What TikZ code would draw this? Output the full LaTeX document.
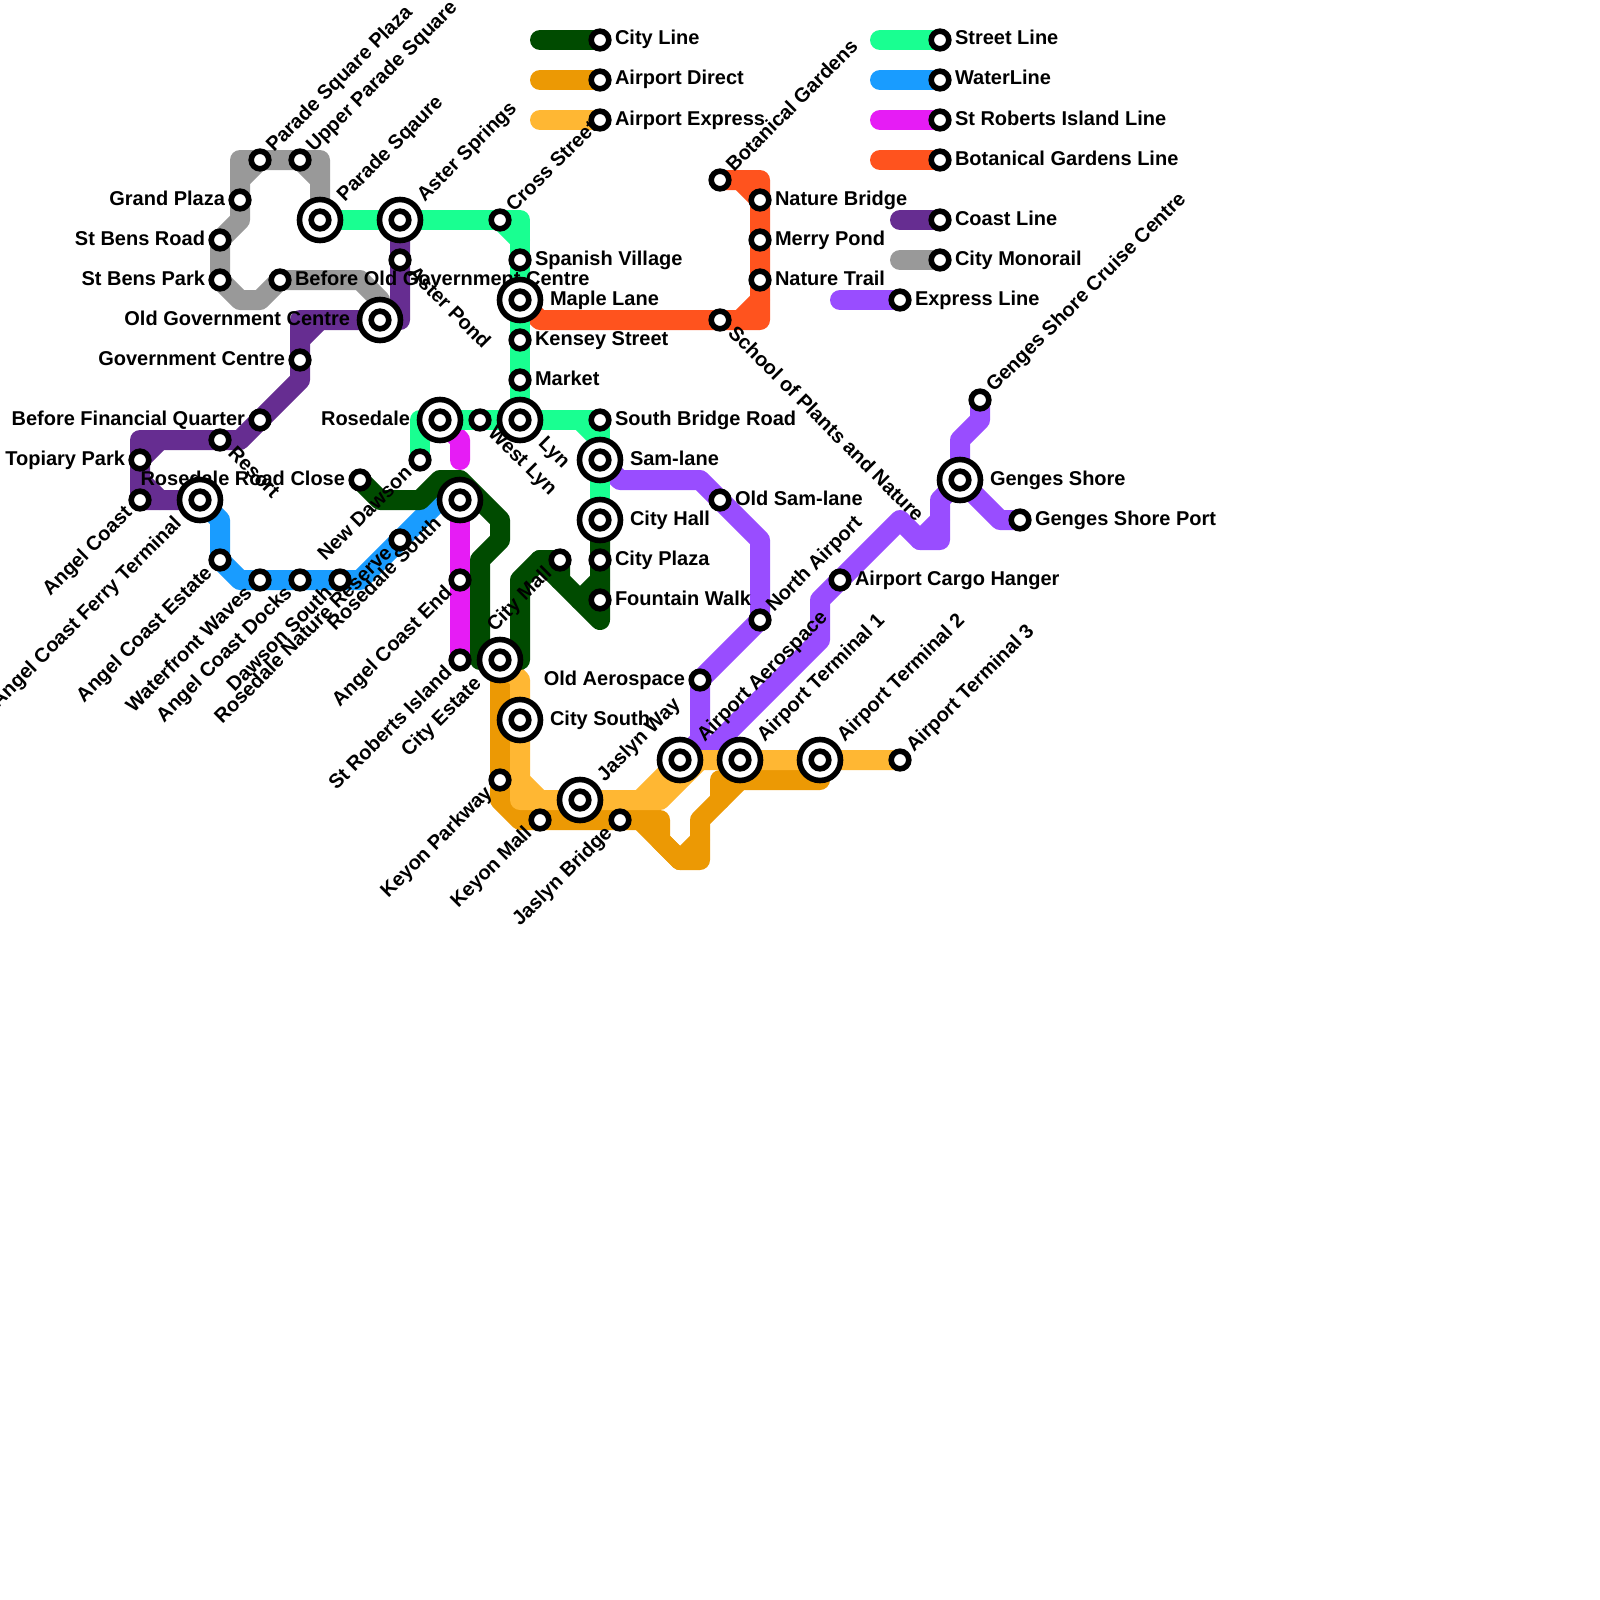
\documentclass[tikz,border=0pt]{standalone}
\usepackage{fontspec}
\setmainfont{Liberation Sans}
\definecolor{citycol}{RGB}{0,75,0}
\definecolor{directcol}{RGB}{236,153,4}
\definecolor{exprcol}{RGB}{255,183,51}
\definecolor{streetcol}{RGB}{25,255,145}
\definecolor{watercol}{RGB}{25,156,255}
\definecolor{islandcol}{RGB}{230,28,245}
\definecolor{botancol}{RGB}{255,83,30}
\definecolor{coastcol}{RGB}{102,45,145}
\definecolor{monocol}{RGB}{153,153,153}
\definecolor{expresscol}{RGB}{153,77,255}
\pgfdeclarelayer{lines}
\pgfdeclarelayer{labels}
\pgfsetlayers{lines,labels,main}
\begin{document}
\begin{tikzpicture}[
    x=1pt,y=-1pt,
    ln/.style={line width=20pt,line cap=round,line join=round},
    stn/.style={circle,draw=black,fill=white,line width=5.6pt,inner sep=0pt,outer sep=0pt,minimum size=17.6pt},
    hub/.style={circle,draw=black,fill=white,line width=5.6pt,inner sep=0pt,outer sep=0pt,minimum size=41pt,
        path picture={\draw[line width=5.6pt] (path picture bounding box.center) circle (8.8pt);}},
    lab/.style={inner sep=0pt,outer sep=0pt,font=\fontsize{20pt}{24pt}\selectfont\bfseries},
    rlab/.style={lab,anchor=base west,xshift=#1,yshift=-5pt},
    rlab/.default=15pt,
    llab/.style={lab,anchor=base east,xshift=-#1,yshift=-5pt},
    llab/.default=15pt,
    ulab/.style={lab,rotate=45,anchor=base west,xshift=#1,yshift=-5pt},
    ulab/.default=15pt,
    blab/.style={lab,rotate=45,anchor=base east,xshift=-#1,yshift=-5pt},
    blab/.default=15pt,
    dlab/.style={lab,rotate=-45,anchor=base west,xshift=#1,yshift=-5pt},
    dlab/.default=15pt
]
\useasboundingbox (0,0) rectangle (1600,1600);
\node[stn] (lgcity) at (600,40) {};
\node[stn] (lgdirect) at (600,80) {};
\node[stn] (lgexpr) at (600,120) {};
\node[stn] (lgstreet) at (940,40) {};
\node[stn] (lgwater) at (940,80) {};
\node[stn] (lgisland) at (940,120) {};
\node[stn] (lgbotan) at (940,160) {};
\node[stn] (lgcoast) at (940,220) {};
\node[stn] (lgmono) at (940,260) {};
\node[stn] (lgexpress) at (900,300) {};
\node[stn] (parplaza) at (260,160) {};
\node[stn] (uppar) at (300,160) {};
\node[stn] (grand) at (240,200) {};
\node[stn] (bensrd) at (220,240) {};
\node[stn] (benspk) at (220,280) {};
\node[stn] (beforeold) at (280,280) {};
\node[hub] (oldgov) at (380,320) {};
\node[hub] (parade) at (320,220) {};
\node[hub] (aster) at (400,220) {};
\node[stn] (asterpond) at (400,260) {};
\node[stn] (gov) at (300,360) {};
\node[stn] (beforefin) at (260,420) {};
\node[stn] (resort) at (220,440) {};
\node[stn] (topiary) at (140,460) {};
\node[stn] (angel) at (140,500) {};
\node[hub] (ferry) at (200,500) {};
\node[stn] (estate) at (220,560) {};
\node[stn] (waves) at (260,580) {};
\node[stn] (docks) at (300,580) {};
\node[stn] (dawson) at (340,580) {};
\node[stn] (reserve) at (400,540) {};
\node[hub] (rosesouth) at (460,500) {};
\node[stn] (rosecl) at (360,480) {};
\node[stn] (newdawson) at (420,460) {};
\node[hub] (rosedale) at (440,420) {};
\node[stn] (westlyn) at (480,420) {};
\node[hub] (lyn) at (520,420) {};
\node[stn] (cross) at (500,220) {};
\node[stn] (spanish) at (520,260) {};
\node[hub] (maple) at (520,300) {};
\node[stn] (kensey) at (520,340) {};
\node[stn] (market) at (520,380) {};
\node[stn] (southbr) at (600,420) {};
\node[hub] (samlane) at (600,460) {};
\node[hub] (cityhall) at (600,520) {};
\node[stn] (cityplaza) at (600,560) {};
\node[stn] (fountain) at (600,600) {};
\node[stn] (citymall) at (560,560) {};
\node[stn] (coastend) at (460,580) {};
\node[stn] (stroberts) at (460,660) {};
\node[hub] (cityest) at (500,660) {};
\node[hub] (citysouth) at (520,720) {};
\node[stn] (keyonpk) at (500,780) {};
\node[stn] (keyonml) at (540,820) {};
\node[hub] (jaslynw) at (580,800) {};
\node[stn] (jaslynb) at (620,820) {};
\node[hub] (aero) at (680,760) {};
\node[hub] (term1) at (740,760) {};
\node[hub] (term2) at (820,760) {};
\node[stn] (term3) at (900,760) {};
\node[stn] (oldaero) at (700,680) {};
\node[stn] (northair) at (760,620) {};
\node[stn] (oldsam) at (720,500) {};
\node[stn] (cargo) at (840,580) {};
\node[hub] (genges) at (960,480) {};
\node[stn] (gengesp) at (1020,520) {};
\node[stn] (cruise) at (980,400) {};
\node[stn] (botan) at (720,180) {};
\node[stn] (naturebr) at (760,200) {};
\node[stn] (merry) at (760,240) {};
\node[stn] (naturetr) at (760,280) {};
\node[stn] (school) at (720,320) {};
\begin{pgfonlayer}{lines}
\draw[ln,monocol] (900,260) -- (lgmono.center);
\draw[ln,monocol] (parade.center) -- (320,160) -- (uppar.center) -- (parplaza.center) -- (240,160) -- (grand.center) -- (240,220) -- (bensrd.center) -- (benspk.center) -- (240,300) -- (260,300) -- (beforeold.center) -- (360,280) -- (380,300) -- (oldgov.center);
\draw[ln,monocol] (uppar.center) -- (320,180);
\draw[ln,monocol] (parplaza.center) -- (240,180);
\draw[ln,coastcol] (900,220) -- (lgcoast.center);
\draw[ln,coastcol] (aster.center) -- (asterpond.center) -- (400,320) -- (oldgov.center) -- (300,320) -- (gov.center) -- (300,380) -- (beforefin.center) -- (240,440) -- (resort.center) -- (140,440) -- (topiary.center) -- (angel.center) -- (ferry.center);
\draw[ln,coastcol] (320,320) -- (300,340);
\draw[ln,coastcol] (160,440) -- (topiary.center);
\draw[ln,coastcol] (140,480) -- (160,500);
\draw[ln,expresscol] (840,300) -- (lgexpress.center);
\draw[ln,expresscol] (samlane.center) -- (620,480) -- (700,480) -- (oldsam.center) -- (760,540) -- (northair.center) -- (oldaero.center) -- (700,740) -- (aero.center);
\draw[ln,expresscol] (aero.center) -- (700,760) -- (820,640) -- (820,600) -- (cargo.center) -- (900,520) -- (920,540) -- (940,540) -- (940,500) -- (genges.center) -- (960,440) -- (980,420) -- (cruise.center);
\draw[ln,expresscol] (920,540) -- (940,520);
\draw[ln,expresscol] (genges.center) -- (1000,520) -- (gengesp.center);
\draw[ln,watercol] (880,80) -- (lgwater.center);
\draw[ln,watercol] (ferry.center) -- (220,520) -- (estate.center) -- (240,580) -- (360,580) -- (reserve.center) -- (440,500) -- (rosesouth.center);
\draw[ln,islandcol] (880,120) -- (lgisland.center);
\draw[ln,islandcol] (rosedale.center) -- (460,440) -- (460,460);
\draw[ln,islandcol] (rosesouth.center) -- (stroberts.center);
\draw[ln,botancol] (880,160) -- (lgbotan.center);
\draw[ln,botancol] (maple.center) -- (540,320) -- (760,320) -- (760,180) -- (botan.center);
\draw[ln,botancol] (740,320) -- (760,300);
\draw[ln,botancol] (740,180) -- (naturebr.center);
\draw[ln,streetcol] (880,40) -- (lgstreet.center);
\draw[ln,streetcol] (parade.center) -- (520,220) -- (lyn.center);
\draw[ln,streetcol] (cross.center) -- (520,240);
\draw[ln,streetcol] (newdawson.center) -- (420,420) -- (600,420) -- (cityhall.center);
\draw[ln,streetcol] (580,420) -- (600,440);
\draw[ln,directcol] (540,80) -- (lgdirect.center);
\draw[ln,directcol] (cityest.center) -- (500,800) -- (520,820) -- (660,820) -- (660,840) -- (680,860) -- (700,860) -- (700,820) -- (720,800) -- (720,780) -- (820,780) -- (term2.center);
\draw[ln,directcol] (640,820) -- (680,860);
\draw[ln,directcol] (680,860) -- (700,840);
\draw[ln,directcol] (720,800) -- (740,780);
\draw[ln,exprcol] (540,120) -- (lgexpr.center);
\draw[ln,exprcol] (cityest.center) -- (520,680) -- (520,800) -- (660,800) -- (700,760);
\draw[ln,exprcol] (520,780) -- (540,800);
\draw[ln,exprcol] (640,800) -- (aero.center) -- (term3.center);
\draw[ln,citycol] (540,40) -- (lgcity.center);
\draw[ln,citycol] (rosecl.center) -- (380,500) -- (420,500) -- (440,480) -- (460,480) -- (500,520) -- (500,540) -- (480,560) -- (480,660) -- (520,660) -- (520,580) -- (540,560) -- (citymall.center) -- (560,580) -- (600,620) -- (cityhall.center);
\draw[ln,citycol] (580,600) -- (600,580);
\draw[ln,citycol] (540,560) -- (560,580);
\end{pgfonlayer}
\begin{pgfonlayer}{labels}
\node[rlab] (tlgcity) at (lgcity) {City Line};
\node[rlab] (tlgdirect) at (lgdirect) {Airport Direct};
\node[rlab] (tlgexpr) at (lgexpr) {Airport Express};
\node[rlab] (tlgstreet) at (lgstreet) {Street Line};
\node[rlab] (tlgwater) at (lgwater) {WaterLine};
\node[rlab] (tlgisland) at (lgisland) {St Roberts Island Line};
\node[rlab] (tlgbotan) at (lgbotan) {Botanical Gardens Line};
\node[rlab] (tlgcoast) at (lgcoast) {Coast Line};
\node[rlab] (tlgmono) at (lgmono) {City Monorail};
\node[rlab] (tlgexpress) at (lgexpress) {Express Line};
\node[ulab] (tparplaza) at (parplaza) {Parade Square Plaza};
\node[ulab] (tuppar) at (uppar) {Upper Parade Square};
\node[llab] (tgrand) at (grand) {Grand Plaza};
\node[llab] (tbensrd) at (bensrd) {St Bens Road};
\node[llab] (tbenspk) at (benspk) {St Bens Park};
\node[rlab] (tbeforeold) at (beforeold) {Before Old Government Centre};
\node[llab=30pt] (toldgov) at (oldgov) {Old Government Centre};
\node[ulab=30pt] (tparade) at (parade) {Parade Sqaure};
\node[ulab=30pt] (taster) at (aster) {Aster Springs};
\node[dlab] (tasterpond) at (asterpond) {Aster Pond};
\node[llab] (tgov) at (gov) {Government Centre};
\node[llab] (tbeforefin) at (beforefin) {Before Financial Quarter};
\node[dlab] (tresort) at (resort) {Resort};
\node[llab] (ttopiary) at (topiary) {Topiary Park};
\node[blab] (tangel) at (angel) {Angel Coast};
\node[blab=30pt] (tferry) at (ferry) {Angel Coast Ferry Terminal};
\node[blab] (testate) at (estate) {Angel Coast Estate};
\node[blab] (twaves) at (waves) {Waterfront Waves};
\node[blab] (tdocks) at (docks) {Angel Coast Docks};
\node[blab] (tdawson) at (dawson) {Dawson South};
\node[blab] (treserve) at (reserve) {Rosedale Nature Reserve};
\node[blab=30pt] (trosesouth) at (rosesouth) {Rosedale South};
\node[llab] (trosecl) at (rosecl) {Rosedale Road Close};
\node[blab] (tnewdawson) at (newdawson) {New Dawson};
\node[llab=30pt] (trosedale) at (rosedale) {Rosedale};
\node[dlab] (twestlyn) at (westlyn) {West Lyn};
\node[dlab=30pt] (tlyn) at (lyn) {Lyn};
\node[ulab] (tcross) at (cross) {Cross Street};
\node[rlab] (tspanish) at (spanish) {Spanish Village};
\node[rlab=30pt] (tmaple) at (maple) {Maple Lane};
\node[rlab] (tkensey) at (kensey) {Kensey Street};
\node[rlab] (tmarket) at (market) {Market};
\node[rlab] (tsouthbr) at (southbr) {South Bridge Road};
\node[rlab=30pt] (tsamlane) at (samlane) {Sam-lane};
\node[rlab=30pt] (tcityhall) at (cityhall) {City Hall};
\node[rlab] (tcityplaza) at (cityplaza) {City Plaza};
\node[rlab] (tfountain) at (fountain) {Fountain Walk};
\node[blab] (tcitymall) at (citymall) {City Mall};
\node[blab] (tcoastend) at (coastend) {Angel Coast End};
\node[blab] (tstroberts) at (stroberts) {St Roberts Island};
\node[blab=30pt] (tcityest) at (cityest) {City Estate};
\node[rlab=30pt] (tcitysouth) at (citysouth) {City South};
\node[blab] (tkeyonpk) at (keyonpk) {Keyon Parkway};
\node[blab] (tkeyonml) at (keyonml) {Keyon Mall};
\node[ulab=30pt] (tjaslynw) at (jaslynw) {Jaslyn Way};
\node[blab] (tjaslynb) at (jaslynb) {Jaslyn Bridge};
\node[ulab=30pt] (taero) at (aero) {Airport Aerospace};
\node[ulab=30pt] (tterm1) at (term1) {Airport Terminal 1};
\node[ulab=30pt] (tterm2) at (term2) {Airport Terminal 2};
\node[ulab] (tterm3) at (term3) {Airport Terminal 3};
\node[llab] (toldaero) at (oldaero) {Old Aerospace};
\node[ulab] (tnorthair) at (northair) {North Airport};
\node[rlab] (toldsam) at (oldsam) {Old Sam-lane};
\node[rlab] (tcargo) at (cargo) {Airport Cargo Hanger};
\node[rlab=30pt] (tgenges) at (genges) {Genges Shore};
\node[rlab] (tgengesp) at (gengesp) {Genges Shore Port};
\node[ulab] (tcruise) at (cruise) {Genges Shore Cruise Centre};
\node[ulab] (tbotan) at (botan) {Botanical Gardens};
\node[rlab] (tnaturebr) at (naturebr) {Nature Bridge};
\node[rlab] (tmerry) at (merry) {Merry Pond};
\node[rlab] (tnaturetr) at (naturetr) {Nature Trail};
\node[dlab] (tschool) at (school) {School of Plants and Nature};
\end{pgfonlayer}
\end{tikzpicture}
\end{document}
